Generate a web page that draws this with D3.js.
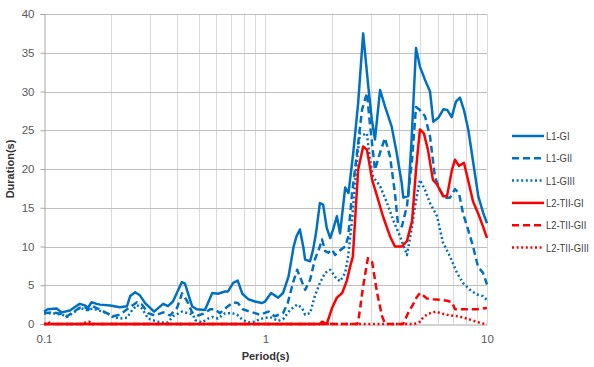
<!DOCTYPE html>
<html>
<head>
<meta charset="utf-8">
<script src="https://cdn.jsdelivr.net/npm/d3@7"></script>
<style>
  html, body { margin: 0; padding: 0; background: #fff; }
  #chart { width: 594px; height: 367px; }
  text { font-family: "Liberation Sans", Arial, sans-serif; }
</style>
</head>
<body>
<div id="chart"></div>
<script>
// [period (s), duration (s)]
const L1_GI = [[0.100,1.6],[0.104,1.9],[0.114,2.0],[0.120,1.5],[0.131,1.75],[0.138,2.2],[0.145,2.6],[0.153,2.4],[0.158,2.1],[0.164,2.8],[0.173,2.6],[0.179,2.5],[0.199,2.4],[0.220,2.15],[0.237,2.3],[0.245,3.6],[0.258,4.1],[0.271,3.7],[0.286,2.7],[0.314,1.6],[0.345,2.6],[0.363,2.3],[0.382,2.9],[0.419,5.4],[0.433,5.2],[0.466,2.3],[0.489,1.9],[0.533,1.8],[0.575,4.0],[0.610,3.9],[0.657,4.2],[0.677,4.2],[0.715,5.3],[0.749,5.6],[0.786,3.9],[0.836,3.2],[0.897,2.9],[0.961,2.7],[0.995,2.9],[1.06,4.0],[1.14,3.4],[1.20,4.0],[1.27,6.1],[1.34,10.0],[1.38,11.3],[1.43,12.2],[1.48,10.0],[1.51,8.3],[1.59,8.1],[1.64,9.6],[1.69,11.7],[1.76,15.6],[1.82,15.4],[1.89,12.4],[1.96,11.1],[2.02,12.2],[2.10,13.9],[2.17,11.7],[2.29,17.6],[2.37,16.9],[2.49,22.1],[2.62,28.5],[2.76,37.5],[2.91,30.7],[3.02,26.4],[3.12,23.8],[3.29,30.2],[3.46,28.1],[3.71,25.5],[3.91,22.1],[4.12,18.2],[4.19,16.3],[4.41,16.5],[4.57,24.0],[4.78,35.6],[4.98,33.2],[5.25,31.5],[5.53,30.0],[5.72,26.1],[6.03,26.6],[6.35,27.7],[6.62,27.6],[6.93,26.7],[7.24,28.7],[7.55,29.2],[7.87,27.6],[8.23,25.1],[8.67,20.8],[9.13,16.5],[9.62,14.3],[10,13.0]];

const L1_GII = [[0.100,1.4],[0.110,1.5],[0.120,1.3],[0.127,1.0],[0.145,2.1],[0.153,2.2],[0.158,1.8],[0.166,2.3],[0.205,1.0],[0.220,1.2],[0.245,2.2],[0.263,2.8],[0.277,2.5],[0.295,1.4],[0.317,1.1],[0.345,1.5],[0.371,1.1],[0.399,2.1],[0.420,3.95],[0.442,3.0],[0.466,1.5],[0.496,1.1],[0.533,1.4],[0.562,1.9],[0.592,1.9],[0.623,1.4],[0.670,2.2],[0.715,2.8],[0.751,2.7],[0.791,1.9],[0.851,1.6],[0.897,1.4],[0.944,1.2],[1.03,1.6],[1.10,1.0],[1.20,1.4],[1.26,2.7],[1.33,5.3],[1.39,7.0],[1.43,6.1],[1.51,4.4],[1.59,5.7],[1.67,8.3],[1.76,10.0],[1.80,10.9],[1.86,9.4],[1.92,9.2],[2.00,9.6],[2.06,8.9],[2.17,9.5],[2.29,10.0],[2.36,11.2],[2.46,16.9],[2.59,22.1],[2.73,27.7],[2.87,29.8],[2.96,25.9],[3.12,19.9],[3.29,22.1],[3.46,24.0],[3.65,21.6],[3.84,16.9],[3.96,13.0],[4.13,12.6],[4.35,15.2],[4.59,21.2],[4.78,28.0],[4.98,27.6],[5.25,26.8],[5.53,24.2],[5.82,19.0],[6.13,17.3],[6.46,16.3],[6.81,16.3],[7.17,17.4],[7.47,16.9],[7.79,14.3],[8.21,12.2],[8.65,10.0],[9.11,7.4],[9.59,6.6],[10,5.1]];

const L1_GIII = [[0.100,1.4],[0.110,1.4],[0.121,1.2],[0.127,0.9],[0.138,1.6],[0.145,2.1],[0.156,1.8],[0.166,2.0],[0.179,1.7],[0.193,1.4],[0.205,0.9],[0.220,0.7],[0.237,0.8],[0.250,1.8],[0.263,2.45],[0.277,2.0],[0.295,0.7],[0.317,0.4],[0.324,0.3],[0.341,0.2],[0.363,0.2],[0.382,1.0],[0.420,1.6],[0.447,1.4],[0.471,1.2],[0.481,0.5],[0.517,0.2],[0.550,0.7],[0.579,0.9],[0.610,0.7],[0.657,1.4],[0.706,1.4],[0.744,1.2],[0.783,0.6],[0.834,0.2],[0.897,0.3],[0.944,0.65],[1.05,0.9],[1.14,0.4],[1.20,0.6],[1.29,1.8],[1.39,2.5],[1.46,2.1],[1.51,1.2],[1.59,1.4],[1.67,3.6],[1.76,5.3],[1.86,6.6],[1.96,7.0],[2.06,6.1],[2.17,5.5],[2.29,6.6],[2.36,8.7],[2.46,13.5],[2.59,21.2],[2.67,24.6],[2.76,24.4],[2.87,24.6],[2.96,21.2],[3.06,19.0],[3.29,17.8],[3.54,15.6],[3.76,13.5],[4.05,11.3],[4.35,8.9],[4.59,12.6],[4.73,15.2],[4.98,18.6],[5.25,17.3],[5.53,15.6],[5.95,13.9],[6.33,10.5],[6.81,8.7],[7.32,6.6],[7.79,5.3],[8.38,4.4],[9.01,3.8],[9.59,3.6],[10,3.1]];

const L2_TII_GI = [[0.100,0],[1.76,0],[1.80,0.3],[1.89,0],[2.00,2.1],[2.10,3.4],[2.22,4.0],[2.33,5.6],[2.41,7.4],[2.48,8.7],[2.62,19.9],[2.76,22.9],[2.87,22.5],[3.03,18.6],[3.19,16.5],[3.39,13.9],[3.65,11.3],[3.84,10.0],[4.13,10.0],[4.35,10.7],[4.59,13.3],[4.78,19.9],[4.98,25.1],[5.19,24.6],[5.41,22.5],[5.70,18.6],[5.95,18.0],[6.33,16.5],[6.60,16.5],[6.95,19.9],[7.17,21.2],[7.47,20.4],[7.87,20.8],[8.21,18.6],[8.65,15.8],[9.11,14.3],[9.59,12.6],[10,11.1]];

const L2_TII_GII = [[0.100,0],[2.59,0],[2.62,0.2],[2.76,4.9],[2.90,8.5],[3.03,8.0],[3.19,4.0],[3.36,1.0],[3.46,0.1],[3.50,0],[4.18,0],[4.40,1.4],[4.63,2.5],[4.80,3.4],[4.98,4.0],[5.14,3.7],[5.36,3.3],[5.70,3.2],[6.20,3.1],[6.60,3.0],[6.95,2.8],[7.17,1.9],[8.0,1.9],[9.0,1.9],[10,2.05]];

const L2_TII_GIII = [[0.100,0],[0.104,0],[0.106,0.2],[0.110,0],[0.150,0],[0.155,0.25],[0.160,0.3],[0.165,0],[4.70,0],[4.98,0.3],[5.14,0.8],[5.41,1.3],[5.88,1.6],[6.26,1.35],[6.81,1.1],[7.40,1.0],[8.12,0.7],[8.83,0.35],[9.59,0.05],[10,0]];

const seriesNames = ["L1-GI", "L1-GII", "L1-GIII", "L2-TII-GI", "L2-TII-GII", "L2-TII-GIII"];
const seriesData = [L1_GI, L1_GII, L1_GIII, L2_TII_GI, L2_TII_GII, L2_TII_GIII];
const yTicks = [0, 5, 10, 15, 20, 25, 30, 35, 40];
const xTickLabels = [0.1, 1, 10];

const blue = "#0070C0", red = "#FF0000";
const styles = [
  { color: blue, dash: null },
  { color: blue, dash: "7,4" },
  { color: blue, dash: "2,2.6" },
  { color: red, dash: null },
  { color: red, dash: "7,4" },
  { color: red, dash: "2,2.6" }
];

const W = 594, H = 367;
const m = { left: 44, top: 14, right: 107, bottom: 43 };

const svg = d3.select("#chart").append("svg")
  .attr("width", W).attr("height", H);

const x = d3.scaleLog().domain([0.1, 10]).range([m.left, W - m.right]);
const y = d3.scaleLinear().domain([0, 40]).range([H - m.bottom, m.top]);

// grid
const minor = [];
[0.1, 1].forEach(b => { for (let k = 1; k <= 9; k++) minor.push(b * k); });
minor.push(10);

svg.append("g")
  .selectAll("line")
  .data(minor.filter(v => v > 0.1))
  .join("line")
  .attr("x1", d => Math.round(x(d)) + 0.5).attr("x2", d => Math.round(x(d)) + 0.5)
  .attr("y1", y(40)).attr("y2", y(0))
  .attr("stroke", "#d9d9d9").attr("stroke-width", 1);

svg.append("g")
  .selectAll("line")
  .data(yTicks.filter(v => v > 0))
  .join("line")
  .attr("x1", x(0.1)).attr("x2", x(10))
  .attr("y1", d => Math.round(y(d)) + 0.5).attr("y2", d => Math.round(y(d)) + 0.5)
  .attr("stroke", "#bfbfbf").attr("stroke-width", 1);

// axes
const yAxis = d3.axisLeft(y).tickValues(yTicks).tickSize(4).tickPadding(6);
const gy = svg.append("g").attr("transform", `translate(${Math.round(x(0.1)) + 0.5},0)`).call(yAxis);
gy.select(".domain").attr("stroke", "#a6a6a6");
gy.selectAll(".tick line").attr("stroke", "#a6a6a6");
gy.selectAll("text").attr("fill", "#595959").style("font-size", "11.5px");

const xAxis = d3.axisBottom(x).tickValues(xTickLabels).tickFormat(d3.format("~g")).tickSize(0).tickPadding(10);
const gx = svg.append("g").attr("transform", `translate(0,${Math.round(y(0)) + 0.5})`).call(xAxis);
gx.select(".domain").attr("stroke", "#a6a6a6");
gx.selectAll("text").attr("fill", "#595959").style("font-size", "11.5px");

// lines
const line = d3.line().x(d => x(d[0])).y(d => y(d[1]));

svg.append("g")
  .selectAll("path")
  .data(seriesData)
  .join("path")
  .attr("d", line)
  .attr("fill", "none")
  .attr("stroke", (d, i) => styles[i].color)
  .attr("stroke-width", 2.5)
  .attr("stroke-linejoin", "round")
  .attr("stroke-dasharray", (d, i) => styles[i].dash);

// axis titles
svg.append("text")
  .attr("x", (x(0.1) + x(10)) / 2).attr("y", 360)
  .attr("text-anchor", "middle")
  .style("font-size", "11px").style("font-weight", "bold")
  .attr("fill", "#333")
  .text("Period(s)");

svg.append("text")
  .attr("transform", `translate(14,${(y(0) + y(40)) / 2}) rotate(-90)`)
  .attr("text-anchor", "middle")
  .style("font-size", "11px").style("font-weight", "bold")
  .attr("fill", "#333")
  .text("Duration(s)");

// legend
const legend = svg.append("g").attr("transform", "translate(512,136)");
const rows = legend.selectAll("g")
  .data(seriesNames)
  .join("g")
  .attr("transform", (d, i) => `translate(0,${i * 22.3})`);

rows.append("line")
  .attr("x1", 0).attr("x2", 32)
  .attr("stroke", (d, i) => styles[i].color)
  .attr("stroke-width", 2.5)
  .attr("stroke-dasharray", (d, i) => styles[i].dash);

// Calibri-like narrow text: squeeze horizontally
rows.append("text")
  .attr("transform", "translate(34,4) scale(0.82,1)")
  .style("font-size", "11.5px")
  .attr("fill", "#404040")
  .text(d => d);
</script>
</body>
</html>
